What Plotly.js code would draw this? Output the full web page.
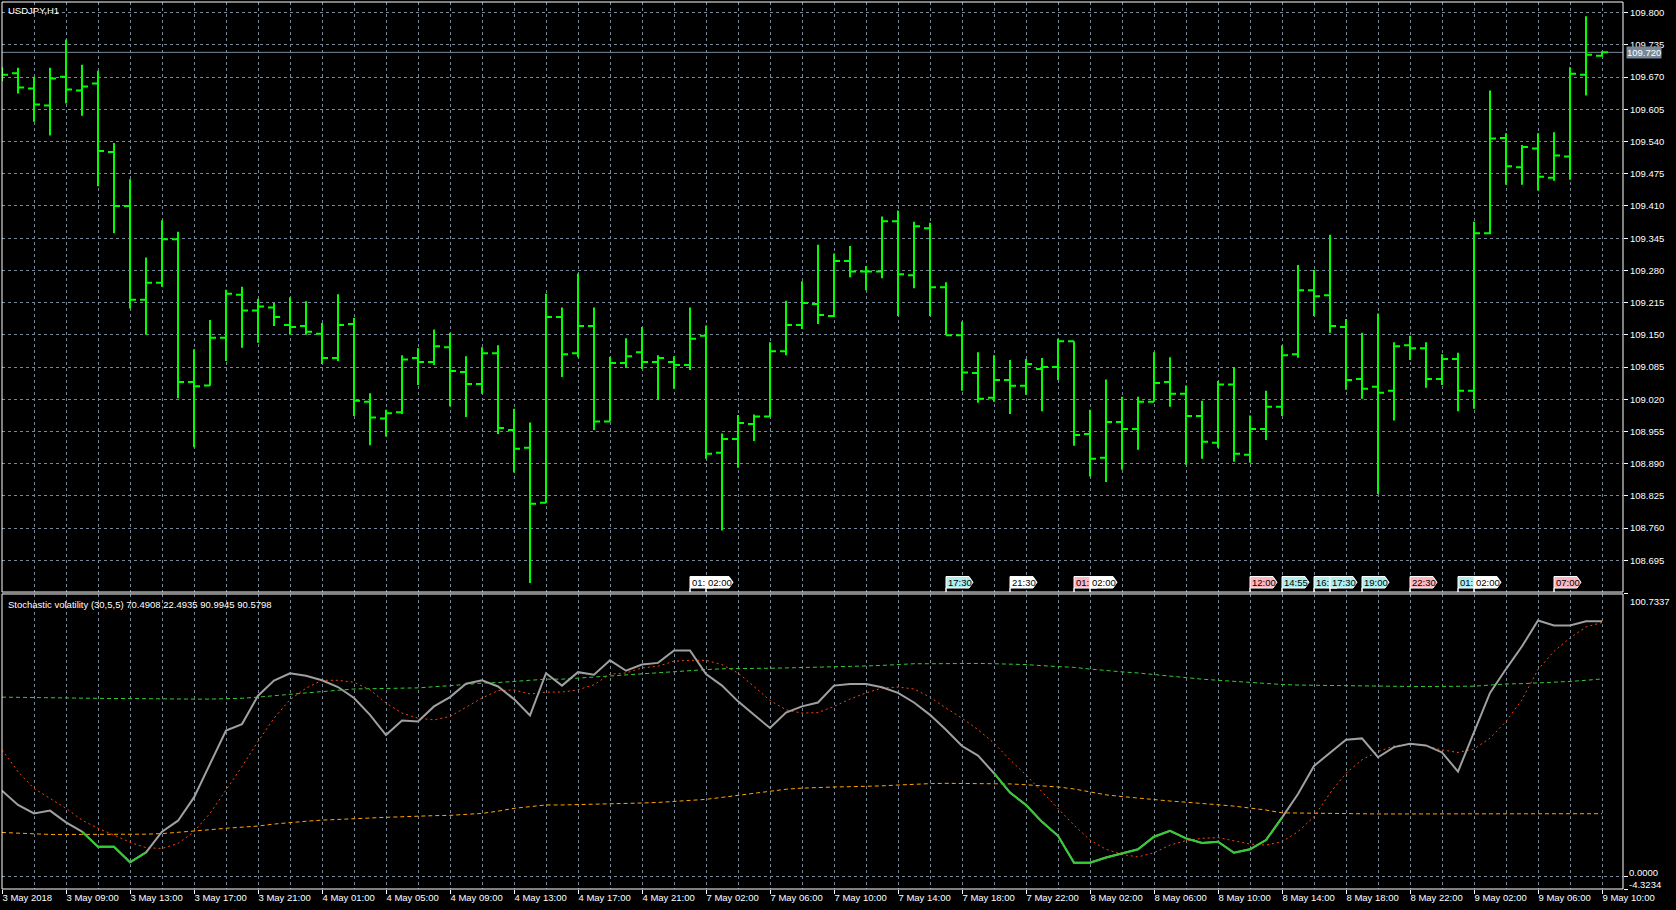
<!DOCTYPE html>
<html>
<head>
<meta charset="utf-8">
<script src="https://cdn.plot.ly/plotly-3.0.1.min.js"></script>
<style>
html,body{margin:0;padding:0;background:#000;}
#chart{width:1676px;height:910px;}
</style>
</head>
<body>
<div id="chart"></div>
<script>
// ---------- DATA ----------
const symbolTitle = "USDJPY,H1";
const indicatorName = "Stochastic volatility";
const indicatorParams = "(30,5,5)";

const timeLabels = ["3 May 2018","3 May 09:00","3 May 13:00","3 May 17:00","3 May 21:00",
  "4 May 01:00","4 May 05:00","4 May 09:00","4 May 13:00","4 May 17:00","4 May 21:00",
  "7 May 02:00","7 May 06:00","7 May 10:00","7 May 14:00","7 May 18:00","7 May 22:00",
  "8 May 02:00","8 May 06:00","8 May 10:00","8 May 14:00","8 May 18:00","8 May 22:00",
  "9 May 02:00","9 May 06:00","9 May 10:00"];

const open = [109.672,109.678,109.647,109.613,109.671,109.643,109.657,109.519,109.410,109.221,
  109.255,109.343,109.055,109.048,109.144,109.231,109.199,109.205,109.170,109.168,
  109.152,109.103,109.172,109.015,108.981,108.994,109.103,109.095,109.125,109.075,
  109.051,109.113,108.958,108.922,108.811,109.186,109.113,109.168,108.975,109.093,
  109.115,109.095,109.095,109.089,109.148,108.912,108.940,108.970,108.985,109.117,
  109.170,109.212,109.188,109.299,109.278,109.278,109.379,109.270,109.365,109.246,
  109.149,109.073,109.023,109.059,109.047,109.081,109.085,109.137,108.950,108.902,
  108.974,108.960,109.015,109.055,109.031,108.986,108.932,109.050,108.908,108.960,
  109.005,109.111,109.240,109.230,109.166,109.061,109.045,109.037,109.129,109.123,
  109.061,109.101,109.037,109.355,109.547,109.488,109.526,109.467,109.510,109.675,
  109.713];
const high = [109.690,109.689,109.671,109.689,109.746,109.695,109.683,109.537,109.464,109.306,
  109.381,109.358,109.121,109.180,109.241,109.247,109.223,109.214,109.226,109.218,
  109.174,109.232,109.184,109.032,108.999,109.109,109.123,109.161,109.154,109.107,
  109.125,109.129,109.001,108.973,109.233,109.205,109.274,109.205,109.106,109.143,
  109.166,109.109,109.107,109.205,109.169,108.951,108.988,108.989,109.135,109.219,
  109.258,109.332,109.314,109.329,109.289,109.389,109.401,109.378,109.376,109.256,
  109.177,109.115,109.109,109.099,109.101,109.103,109.142,109.137,108.999,109.060,
  109.025,109.025,109.115,109.105,109.048,109.017,109.057,109.085,108.987,109.037,
  109.129,109.291,109.281,109.352,109.182,109.154,109.193,109.135,109.148,109.135,
  109.111,109.114,109.378,109.643,109.557,109.533,109.557,109.559,109.690,109.793,
  109.722];
const low = [109.662,109.637,109.580,109.552,109.617,109.592,109.450,109.355,109.203,109.150,
  109.247,109.022,108.923,109.047,109.097,109.124,109.134,109.168,109.150,109.150,
  109.091,109.097,108.986,108.927,108.945,108.990,109.049,109.089,109.006,108.984,
  109.031,108.950,108.872,108.649,108.811,109.065,109.105,108.958,108.975,109.083,
  109.081,109.019,109.041,109.079,108.900,108.755,108.882,108.936,108.985,109.109,
  109.162,109.172,109.186,109.266,109.240,109.264,109.188,109.244,109.188,109.149,
  109.037,109.013,109.015,108.990,109.029,108.996,109.059,108.926,108.864,108.853,
  108.878,108.918,109.015,109.005,108.888,108.900,108.922,108.894,108.892,108.938,
  108.986,109.104,109.188,109.154,109.039,109.021,108.829,108.977,109.099,109.043,
  109.049,108.996,109.001,109.353,109.453,109.453,109.441,109.461,109.463,109.633,
  109.711];
const close = [109.675,109.649,109.615,109.667,109.645,109.651,109.521,109.410,109.221,109.255,
  109.343,109.055,109.046,109.144,109.233,109.199,109.207,109.186,109.166,109.156,
  109.103,109.170,109.017,108.983,108.992,109.100,109.095,109.127,109.077,109.051,
  109.113,108.962,108.920,108.809,109.186,109.111,109.168,108.975,109.093,109.107,
  109.095,109.103,109.089,109.142,108.910,108.940,108.972,108.985,109.117,109.170,
  109.214,109.190,109.299,109.278,109.278,109.379,109.272,109.369,109.246,109.149,
  109.074,109.021,109.059,109.047,109.091,109.085,109.137,108.948,108.900,108.974,
  108.960,109.015,109.053,109.031,108.986,108.934,109.050,108.910,108.960,109.005,
  109.109,109.240,109.228,109.168,109.059,109.041,109.033,109.127,109.123,109.061,
  109.101,109.037,109.355,109.546,109.490,109.529,109.469,109.512,109.677,109.715,
  109.720];

const svMain = [30.7,25.6,22.6,23.6,19.4,16.1,10.7,10.7,5.2,8.7,
  16.1,20.0,28.3,40.5,52.1,54.4,64.5,69.9,72.5,71.6,
  70.0,67.6,63.7,57.7,50.5,55.7,55.3,60.7,64.0,68.8,
  70.0,67.8,63.3,57.5,72.5,68.1,72.9,72.0,77.1,73.4,
  75.6,76.2,80.6,80.6,72.2,68.1,62.5,57.7,53.0,58.5,
  60.7,62.1,68.1,68.7,68.7,67.5,65.5,62.1,57.7,52.4,
  46.6,43.2,36.9,30.0,25.6,19.6,14.6,5.0,5.0,6.9,
  8.3,9.8,14.3,16.4,13.7,12.1,12.5,8.6,9.8,13.1,
  21.1,29.5,39.5,44.3,48.8,49.3,42.6,46.2,47.4,46.8,
  44.3,37.5,51.4,65.5,74.0,82.1,91.3,89.5,89.5,91.0,
  90.9945];
const svSignal = [45.2,37.5,31.5,28.0,24.4,20.2,17.3,14.9,12.3,10.4,
  10.1,11.9,16.1,22.6,30.9,39.3,48.2,56.5,63.1,67.2,
  70.0,70.0,69.3,66.6,61.9,58.3,56.5,55.9,57.1,60.5,
  63.7,66.3,66.6,65.1,65.8,65.8,66.6,68.4,72.2,72.6,
  74.4,75.0,76.8,77.1,77.1,75.6,72.6,67.8,62.8,59.5,
  58.3,58.5,60.7,63.3,65.5,67.2,67.6,66.9,64.0,60.1,
  56.5,52.4,47.6,41.7,36.3,30.3,24.4,18.4,13.1,9.8,
  8.0,7.1,8.6,11.3,12.9,13.7,14.0,12.9,11.7,11.3,
  12.5,16.1,21.4,29.8,36.9,41.7,44.6,46.6,47.4,46.6,
  45.2,44.3,45.5,49.4,55.3,63.1,73.8,80.3,85.1,89.0,
  90.5798];
const svUpper = [64.0,63.9,63.8,63.8,63.7,63.6,63.6,63.5,63.5,63.4,
  63.4,63.3,63.3,63.3,63.4,63.6,64.0,64.6,65.0,65.5,
  66.0,66.4,66.9,67.0,67.2,67.2,67.3,67.6,68.1,68.5,
  69.0,69.2,69.6,69.9,70.4,70.4,70.8,71.2,71.5,72.0,
  72.2,72.6,73.0,73.5,73.8,74.1,74.1,74.1,74.3,74.4,
  74.5,74.6,74.8,75.0,75.1,75.3,75.6,75.9,75.9,76.0,
  76.1,76.0,75.9,75.8,75.6,75.2,75.0,74.6,74.0,73.4,
  73.0,72.6,72.0,71.4,70.9,70.4,70.0,69.6,69.2,68.7,
  68.5,68.3,68.2,68.2,68.1,68.1,67.9,67.9,67.8,67.8,
  67.8,67.8,67.9,68.3,68.7,68.8,69.0,69.3,69.6,70.0,
  70.4908];
const svLower = [15.8,15.6,15.2,15.1,15.1,15.1,15.1,15.1,15.1,15.2,
  15.4,15.8,16.4,16.8,17.3,17.7,18.1,18.8,19.4,19.8,
  20.2,20.5,20.8,21.0,21.2,21.4,21.7,21.8,21.9,22.3,
  22.6,23.4,24.4,25.0,25.6,25.6,25.7,25.8,26.0,26.1,
  26.3,26.5,26.8,27.1,27.6,28.3,29.0,29.8,30.5,31.2,
  31.6,31.9,32.0,32.1,32.2,32.4,32.7,33.0,33.2,33.3,
  33.3,33.3,33.2,33.1,32.8,32.5,32.0,31.3,30.3,29.2,
  28.6,28.0,27.5,27.0,26.6,26.2,25.7,25.2,24.5,23.8,
  22.8,22.7,22.6,22.5,22.4,22.4,22.4,22.4,22.4,22.4,
  22.4,22.4,22.4,22.4,22.4,22.4,22.4,22.4,22.45,22.5,
  22.4935];
const indicatorRange = [-4.3234, 100.7337];

// news events (bar index, time text, importance)
const eventBars = [43,44,59,63,67,68,78,80,82,83,85,88,91,92,97];
const eventTexts = ["01:","02:00","17:30","21:30","01:","02:00","12:00","14:55","16:","17:30","19:00","22:30","01:","02:00","07:00"];
const eventLevels = ["low","low","medium","low","high","low","high","medium","medium","medium","medium","high","medium","low","high"];

// ---------- STYLE ----------
const FONT = "Liberation Sans, Arial, sans-serif";
const FS = 9.5;
const GRID = "#778899";
const GRIDDASH = "3px,3px";
const levelColor = {low:"#ffffff", medium:"#aeeeee", high:"#ffb6c1"};
const labelEvery = 4;

const n = close.length;
const xs = close.map((_, i) => i);
const green = svMain.map((v, i) =>
  (v < svLower[i] || (i + 1 < n && svMain[i + 1] < svLower[i + 1])) ? v : null);

const traces = [
  {type:"ohlc", x:xs, open:open, high:high, low:low, close:close, xaxis:"x", yaxis:"y",
   increasing:{line:{color:"#00ff00", width:2}}, decreasing:{line:{color:"#00ff00", width:2}},
   tickwidth:0.375, hoverinfo:"skip", showlegend:false},
  {type:"scatter", mode:"lines", x:xs, y:svUpper, xaxis:"x", yaxis:"y2",
   line:{color:"#32cd32", width:1, dash:"4px,3px"}, hoverinfo:"skip", showlegend:false},
  {type:"scatter", mode:"lines", x:xs, y:svLower, xaxis:"x", yaxis:"y2",
   line:{color:"#ffa500", width:1, dash:"4px,3px"}, hoverinfo:"skip", showlegend:false},
  {type:"scatter", mode:"lines", x:xs, y:svSignal, xaxis:"x", yaxis:"y2",
   line:{color:"#ff4500", width:1, dash:"2px,3px"}, hoverinfo:"skip", showlegend:false},
  {type:"scatter", mode:"lines", x:xs, y:svMain, xaxis:"x", yaxis:"y2",
   line:{color:"#a0a0a0", width:2}, hoverinfo:"skip", showlegend:false},
  {type:"scatter", mode:"lines", x:xs, y:green, xaxis:"x", yaxis:"y2", connectgaps:false,
   line:{color:"#32cd32", width:2}, hoverinfo:"skip", showlegend:false}
];

const tickVals = timeLabels.map((_, k) => k * labelEvery);
const lastClose = close[n - 1];

const shapes = [
  {type:"line", xref:"paper", x0:0, x1:1, yref:"y", y0:lastClose, y1:lastClose,
   line:{color:"#778899", width:1}, layer:"below"},
  {type:"rect", xref:"paper", x0:0, x1:1, yref:"y domain", y0:0, y1:1,
   line:{color:"#ffffff", width:1}, layer:"above"},
  {type:"rect", xref:"paper", x0:0, x1:1, yref:"y2 domain", y0:0, y1:1,
   line:{color:"#ffffff", width:1}, layer:"above"}
];
const annotations = [
  {xref:"paper", x:0, xanchor:"left", xshift:4, yref:"y domain", y:1, yanchor:"top", yshift:-1,
   text:symbolTitle, showarrow:false, font:{family:FONT, size:FS, color:"#ffffff"}},
  {xref:"paper", x:0, xanchor:"left", xshift:4, yref:"y2 domain", y:1, yanchor:"top", yshift:-3,
   text:indicatorName + " " + indicatorParams + " " + svUpper[n-1].toFixed(4) + " " +
        svLower[n-1].toFixed(4) + " " + svMain[n-1].toFixed(4) + " " + svSignal[n-1].toFixed(4),
   showarrow:false, font:{family:FONT, size:FS, color:"#ffffff"}},
  {xref:"paper", x:1, xanchor:"left", xshift:3, yref:"y", y:lastClose, yanchor:"middle",
   text:lastClose.toFixed(3), showarrow:false, bgcolor:"#778899", borderpad:0,
   font:{family:FONT, size:FS, color:"#ffffff"}},
  {xref:"paper", x:1, xanchor:"left", xshift:5, yref:"y2", y:indicatorRange[1], yanchor:"top",
   text:indicatorRange[1].toFixed(4), showarrow:false, font:{family:FONT, size:FS, color:"#ffffff"}},
  {xref:"paper", x:1, xanchor:"left", xshift:5, yref:"y2", y:0, yanchor:"bottom", yshift:-2,
   text:(0).toFixed(4), showarrow:false, borderpad:0, font:{family:FONT, size:FS, color:"#ffffff"}},
  {xref:"paper", x:1, xanchor:"left", xshift:5, yref:"y2", y:indicatorRange[0], yanchor:"bottom", yshift:-2,
   text:indicatorRange[0].toFixed(4), showarrow:false, borderpad:0, font:{family:FONT, size:FS, color:"#ffffff"}}
];

eventBars.forEach((b, k) => {
  shapes.push({type:"path", xref:"x", xsizemode:"pixel", xanchor:b,
    yref:"y domain", ysizemode:"pixel", yanchor:0,
    path:"M0,0 L0,15.5 L23,15.5 L27,9.75 L23,4 L0,4 Z",
    fillcolor:levelColor[eventLevels[k]], line:{color:"#ffffff", width:1}, layer:"above"});
  annotations.push({xref:"x", x:b, xanchor:"left", xshift:1, yref:"y domain", y:0,
    yanchor:"middle", yshift:9.75, text:eventTexts[k], showarrow:false, borderpad:0,
    font:{family:FONT, size:FS, color:"#000000"}});
});

const layout = {
  width:1676, height:910,
  paper_bgcolor:"#000000", plot_bgcolor:"#000000",
  margin:{l:2, r:53, t:2, b:21, pad:0},
  showlegend:false, hovermode:false, dragmode:false,
  font:{family:FONT, size:FS, color:"#ffffff"},
  xaxis:{type:"linear", range:[0, 101.3125], anchor:"y2", fixedrange:true,
    rangeslider:{visible:false},
    tickmode:"array", tickvals:tickVals, ticktext:timeLabels,
    ticklabelposition:"outside right",
    ticks:"outside", ticklen:4, tickcolor:"#ffffff", tickwidth:1,
    tickfont:{family:FONT, size:FS, color:"#ffffff"},
    showgrid:true, gridcolor:GRID, griddash:GRIDDASH, gridwidth:1,
    minor:{tick0:0, dtick:2, showgrid:true, gridcolor:GRID, griddash:GRIDDASH, gridwidth:1, ticks:""},
    showline:false, zeroline:false},
  yaxis:{domain:[0.3348, 1], range:[108.631, 109.8216], side:"right", anchor:"x", fixedrange:true,
    tick0:108.695, dtick:0.065, tickformat:".3f",
    ticks:"outside", ticklen:4, tickcolor:"#ffffff", tickwidth:1,
    tickfont:{family:FONT, size:FS, color:"#ffffff"},
    showgrid:true, gridcolor:GRID, griddash:GRIDDASH, gridwidth:1,
    showline:false, zeroline:false},
  yaxis2:{domain:[0, 0.3326], range:indicatorRange, side:"right", anchor:"x", fixedrange:true,
    tickmode:"array", tickvals:[indicatorRange[0], 0, indicatorRange[1]],
    showticklabels:false,
    ticks:"outside", ticklen:4, tickcolor:"#ffffff", tickwidth:1,
    showgrid:true, gridcolor:GRID, griddash:GRIDDASH, gridwidth:1,
    showline:false, zeroline:false},
  shapes:shapes,
  annotations:annotations
};

Plotly.newPlot("chart", traces, layout, {displayModeBar:false, staticPlot:true});
</script>
</body>
</html>
